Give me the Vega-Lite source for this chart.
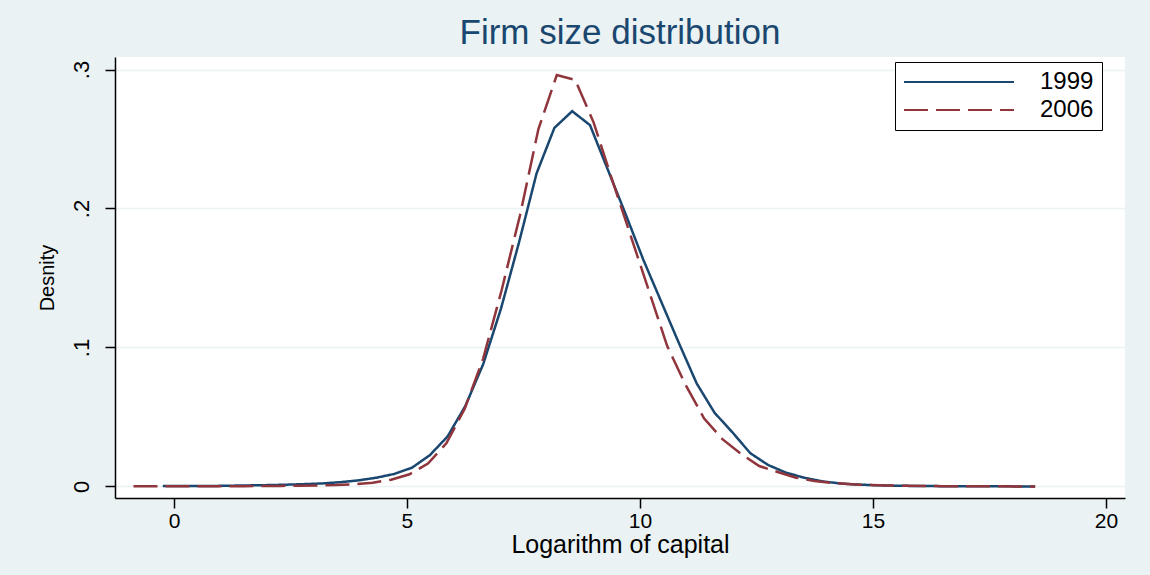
{
  "$schema": "https://vega.github.io/schema/vega-lite/v6.json",
  "width": 1010,
  "height": 441,
  "autosize": "none",
  "padding": {"left": 115, "top": 57, "right": 25, "bottom": 77},
  "background": "#EAF2F3",
  "title": {
    "text": "Firm size distribution",
    "fontSize": 35,
    "font": "Liberation Sans",
    "fontWeight": "normal",
    "color": "#1a476f",
    "anchor": "middle",
    "baseline": "alphabetic",
    "offset": 11,
    "dy": 33
  },
  "config": {
    "view": {"stroke": null, "fill": "white"},
    "font": "Liberation Sans",
    "axis": {
      "domainColor": "black",
      "domainWidth": 1.5,
      "tickColor": "black",
      "tickWidth": 1.5,
      "tickSize": 10,
      "labelColor": "black",
      "titleColor": "black",
      "labelFont": "Liberation Sans",
      "titleFont": "Liberation Sans",
      "titleFontWeight": "normal",
      "gridColor": "#EAF2F3",
      "gridWidth": 1.5
    },
    "legend": {
      "orient": "none",
      "legendX": 780,
      "legendY": 5,
      "direction": "vertical",
      "fillColor": "white",
      "strokeColor": "black",
      "padding": 8,
      "symbolType": "M-1,0H9",
      "symbolSize": 484,
      "symbolStrokeWidth": 2,
      "labelFontSize": 24,
      "labelFont": "Liberation Sans",
      "labelColor": "black",
      "labelOffset": 113,
      "rowPadding": 4
    }
  },
  "data": {
    "values": [
      {"year": "1999", "x": -0.24, "y": 0.0003},
      {"year": "1999", "x": 0.142, "y": 0.0003},
      {"year": "1999", "x": 0.524, "y": 0.0003},
      {"year": "1999", "x": 0.906, "y": 0.0004},
      {"year": "1999", "x": 1.288, "y": 0.0006},
      {"year": "1999", "x": 1.67, "y": 0.0008},
      {"year": "1999", "x": 2.052, "y": 0.001},
      {"year": "1999", "x": 2.434, "y": 0.0013},
      {"year": "1999", "x": 2.816, "y": 0.0017},
      {"year": "1999", "x": 3.198, "y": 0.0022},
      {"year": "1999", "x": 3.58, "y": 0.0031},
      {"year": "1999", "x": 3.962, "y": 0.0044},
      {"year": "1999", "x": 4.344, "y": 0.0063},
      {"year": "1999", "x": 4.726, "y": 0.009},
      {"year": "1999", "x": 5.108, "y": 0.0135},
      {"year": "1999", "x": 5.49, "y": 0.0225},
      {"year": "1999", "x": 5.872, "y": 0.036},
      {"year": "1999", "x": 6.254, "y": 0.058},
      {"year": "1999", "x": 6.636, "y": 0.088},
      {"year": "1999", "x": 7.018, "y": 0.128},
      {"year": "1999", "x": 7.4, "y": 0.175},
      {"year": "1999", "x": 7.782, "y": 0.2253},
      {"year": "1999", "x": 8.164, "y": 0.258},
      {"year": "1999", "x": 8.546, "y": 0.27},
      {"year": "1999", "x": 8.928, "y": 0.26},
      {"year": "1999", "x": 9.31, "y": 0.228},
      {"year": "1999", "x": 9.692, "y": 0.196},
      {"year": "1999", "x": 10.074, "y": 0.163},
      {"year": "1999", "x": 10.456, "y": 0.133},
      {"year": "1999", "x": 10.838, "y": 0.103},
      {"year": "1999", "x": 11.22, "y": 0.074},
      {"year": "1999", "x": 11.602, "y": 0.053},
      {"year": "1999", "x": 11.984, "y": 0.039},
      {"year": "1999", "x": 12.366, "y": 0.024},
      {"year": "1999", "x": 12.748, "y": 0.0155},
      {"year": "1999", "x": 13.13, "y": 0.01},
      {"year": "1999", "x": 13.512, "y": 0.0064},
      {"year": "1999", "x": 13.894, "y": 0.0038},
      {"year": "1999", "x": 14.276, "y": 0.0022},
      {"year": "1999", "x": 14.658, "y": 0.0014},
      {"year": "1999", "x": 15.04, "y": 0.0009},
      {"year": "1999", "x": 15.422, "y": 0.0006},
      {"year": "1999", "x": 15.804, "y": 0.0004},
      {"year": "1999", "x": 16.186, "y": 0.0003},
      {"year": "1999", "x": 16.568, "y": 0.0002},
      {"year": "1999", "x": 16.95, "y": 0.00015},
      {"year": "1999", "x": 17.332, "y": 0.0001},
      {"year": "1999", "x": 17.714, "y": 0.0001},
      {"year": "1999", "x": 18.096, "y": 0.00005},
      {"year": "1999", "x": 18.478, "y": 0.00003},
      {"year": "2006", "x": -0.87, "y": 0.0001},
      {"year": "2006", "x": -0.475, "y": 0.0001},
      {"year": "2006", "x": -0.08, "y": 0.0001},
      {"year": "2006", "x": 0.315, "y": 0.0001},
      {"year": "2006", "x": 0.71, "y": 0.0001},
      {"year": "2006", "x": 1.105, "y": 0.0002},
      {"year": "2006", "x": 1.5, "y": 0.0002},
      {"year": "2006", "x": 1.895, "y": 0.0003},
      {"year": "2006", "x": 2.29, "y": 0.0004},
      {"year": "2006", "x": 2.685, "y": 0.0005},
      {"year": "2006", "x": 3.08, "y": 0.0007},
      {"year": "2006", "x": 3.475, "y": 0.001},
      {"year": "2006", "x": 3.87, "y": 0.0016},
      {"year": "2006", "x": 4.265, "y": 0.0027},
      {"year": "2006", "x": 4.66, "y": 0.0048},
      {"year": "2006", "x": 5.055, "y": 0.0088},
      {"year": "2006", "x": 5.45, "y": 0.0165},
      {"year": "2006", "x": 5.845, "y": 0.031},
      {"year": "2006", "x": 6.24, "y": 0.056},
      {"year": "2006", "x": 6.635, "y": 0.092},
      {"year": "2006", "x": 7.03, "y": 0.141},
      {"year": "2006", "x": 7.425, "y": 0.195},
      {"year": "2006", "x": 7.82, "y": 0.257},
      {"year": "2006", "x": 8.215, "y": 0.296},
      {"year": "2006", "x": 8.61, "y": 0.2925},
      {"year": "2006", "x": 9.005, "y": 0.262},
      {"year": "2006", "x": 9.4, "y": 0.221},
      {"year": "2006", "x": 9.795, "y": 0.181},
      {"year": "2006", "x": 10.19, "y": 0.141},
      {"year": "2006", "x": 10.585, "y": 0.101},
      {"year": "2006", "x": 10.98, "y": 0.073},
      {"year": "2006", "x": 11.375, "y": 0.049},
      {"year": "2006", "x": 11.77, "y": 0.034},
      {"year": "2006", "x": 12.165, "y": 0.0236},
      {"year": "2006", "x": 12.56, "y": 0.0147},
      {"year": "2006", "x": 12.955, "y": 0.0104},
      {"year": "2006", "x": 13.35, "y": 0.0063},
      {"year": "2006", "x": 13.745, "y": 0.004},
      {"year": "2006", "x": 14.14, "y": 0.0025},
      {"year": "2006", "x": 14.535, "y": 0.0016},
      {"year": "2006", "x": 14.93, "y": 0.001},
      {"year": "2006", "x": 15.325, "y": 0.0007},
      {"year": "2006", "x": 15.72, "y": 0.0005},
      {"year": "2006", "x": 16.115, "y": 0.0003},
      {"year": "2006", "x": 16.51, "y": 0.0002},
      {"year": "2006", "x": 16.905, "y": 0.00015},
      {"year": "2006", "x": 17.3, "y": 0.0001},
      {"year": "2006", "x": 17.695, "y": 0.0001},
      {"year": "2006", "x": 18.09, "y": 0.00005},
      {"year": "2006", "x": 18.485, "y": 0.00003}
    ]
  },
  "mark": {"type": "line", "strokeWidth": 2.5, "interpolate": "linear"},
  "encoding": {
    "x": {
      "field": "x",
      "type": "quantitative",
      "scale": {"domain": [-1.266, 20.41], "nice": false, "zero": false},
      "axis": {
        "values": [0, 5, 10, 15, 20],
        "title": "Logarithm of capital",
        "titleFontSize": 25,
        "titleX": 505,
        "titleY": 46,
        "titleBaseline": "middle",
        "titleAnchor": "middle",
        "labelFontSize": 21,
        "labelPadding": 2,
        "grid": false
      }
    },
    "y": {
      "field": "y",
      "type": "quantitative",
      "scale": {"domain": [-0.0083, 0.309], "nice": false, "zero": false},
      "axis": {
        "values": [0, 0.1, 0.2, 0.3],
        "labelExpr": "datum.value == 0 ? '0' : '.' + round(datum.value * 10)",
        "labelAngle": -90,
        "labelAlign": "center",
        "labelBaseline": "bottom",
        "labelPadding": 12,
        "labelFontSize": 22,
        "title": "Desnity",
        "titleFontSize": 20,
        "titleAngle": -90,
        "titleX": -68,
        "titleY": 220.5,
        "titleBaseline": "middle",
        "titleAlign": "center",
        "grid": true
      }
    },
    "color": {
      "field": "year",
      "type": "nominal",
      "scale": {"domain": ["1999", "2006"], "range": ["#1a476f", "#90353b"]},
      "legend": {"title": null}
    },
    "strokeDash": {
      "field": "year",
      "type": "nominal",
      "scale": {"domain": ["1999", "2006"], "range": [[1, 0], [24, 8]]},
      "legend": {"title": null}
    }
  }
}
